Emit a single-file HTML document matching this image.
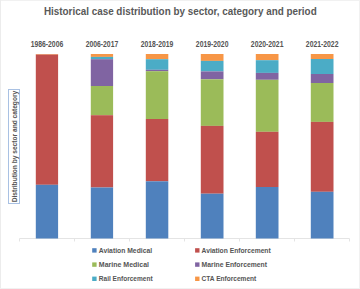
<!DOCTYPE html>
<html><head><meta charset="utf-8"><style>
html,body{margin:0;padding:0;background:#fff;}
body{width:360px;height:289px;overflow:hidden;}
svg{display:block;}
text{font-family:"Liberation Sans",sans-serif;}
.title{font-size:10.6px;font-weight:bold;fill:#595959;}
.lab{font-size:8.6px;font-weight:bold;fill:#555555;}
.leg{font-size:7.4px;font-weight:bold;fill:#555555;}
.ytitle{font-size:7.6px;fill:#555555;font-weight:bold;}
</style></head><body>
<svg width="360" height="289" viewBox="0 0 360 289">
<rect x="0" y="0" width="360" height="289" fill="#fff"/><rect x="0" y="0" width="360" height="1" fill="#f1f1f1"/><rect x="0" y="0" width="1" height="289" fill="#ececec"/><rect x="359" y="0" width="1" height="289" fill="#f1f1f1"/><rect x="0" y="288" width="360" height="1" fill="#f1f1f1"/>
<text x="43.9" y="14.9" class="title" textLength="272.8" lengthAdjust="spacingAndGlyphs">Historical case distribution by sector, category and period</text>
<text x="30.65" y="46.8" class="lab" textLength="32.6" lengthAdjust="spacingAndGlyphs">1986-2006</text><text x="85.65" y="46.8" class="lab" textLength="32.6" lengthAdjust="spacingAndGlyphs">2006-2017</text><text x="140.75" y="46.8" class="lab" textLength="32.6" lengthAdjust="spacingAndGlyphs">2018-2019</text><text x="195.85" y="46.8" class="lab" textLength="32.6" lengthAdjust="spacingAndGlyphs">2019-2020</text><text x="250.85" y="46.8" class="lab" textLength="32.6" lengthAdjust="spacingAndGlyphs">2020-2021</text><text x="305.85" y="46.8" class="lab" textLength="32.6" lengthAdjust="spacingAndGlyphs">2021-2022</text>
<g stroke="#e4e4e4" stroke-width="1">
<line x1="19.5" y1="238.5" x2="349.5" y2="238.5"/>
<line x1="19.5" y1="238.5" x2="19.5" y2="241.5" /><line x1="74.5" y1="238.5" x2="74.5" y2="241.5" /><line x1="129.5" y1="238.5" x2="129.5" y2="241.5" /><line x1="184.5" y1="238.5" x2="184.5" y2="241.5" /><line x1="239.5" y1="238.5" x2="239.5" y2="241.5" /><line x1="294.5" y1="238.5" x2="294.5" y2="241.5" /><line x1="349.5" y1="238.5" x2="349.5" y2="241.5" />
</g>
<rect x="35.80" y="54" width="22.30" height="0.60" fill="#F79646"/><rect x="35.80" y="54.6" width="22.30" height="130.20" fill="#C0504D"/><rect x="35.80" y="184.8" width="22.30" height="53.70" fill="#4F81BD"/><rect x="90.80" y="54" width="22.30" height="2.90" fill="#F79646"/><rect x="90.80" y="56.9" width="22.30" height="2.30" fill="#4BACC6"/><rect x="90.80" y="59.2" width="22.30" height="26.80" fill="#8064A2"/><rect x="90.80" y="86" width="22.30" height="29.20" fill="#9BBB59"/><rect x="90.80" y="115.2" width="22.30" height="72.30" fill="#C0504D"/><rect x="90.80" y="187.5" width="22.30" height="51.00" fill="#4F81BD"/><rect x="145.80" y="54" width="22.50" height="5.20" fill="#F79646"/><rect x="145.80" y="59.2" width="22.50" height="10.60" fill="#4BACC6"/><rect x="145.80" y="69.8" width="22.50" height="1.40" fill="#8064A2"/><rect x="145.80" y="71.2" width="22.50" height="47.80" fill="#9BBB59"/><rect x="145.80" y="119" width="22.50" height="62.30" fill="#C0504D"/><rect x="145.80" y="181.3" width="22.50" height="57.20" fill="#4F81BD"/><rect x="200.80" y="54" width="22.70" height="6.90" fill="#F79646"/><rect x="200.80" y="60.9" width="22.70" height="10.50" fill="#4BACC6"/><rect x="200.80" y="71.4" width="22.70" height="7.90" fill="#8064A2"/><rect x="200.80" y="79.3" width="22.70" height="46.60" fill="#9BBB59"/><rect x="200.80" y="125.9" width="22.70" height="67.80" fill="#C0504D"/><rect x="200.80" y="193.7" width="22.70" height="44.80" fill="#4F81BD"/><rect x="255.80" y="54" width="22.70" height="6.20" fill="#F79646"/><rect x="255.80" y="60.2" width="22.70" height="12.70" fill="#4BACC6"/><rect x="255.80" y="72.9" width="22.70" height="6.90" fill="#8064A2"/><rect x="255.80" y="79.8" width="22.70" height="52.00" fill="#9BBB59"/><rect x="255.80" y="131.8" width="22.70" height="55.20" fill="#C0504D"/><rect x="255.80" y="187" width="22.70" height="51.50" fill="#4F81BD"/><rect x="310.80" y="54" width="22.70" height="5.00" fill="#F79646"/><rect x="310.80" y="59" width="22.70" height="15.00" fill="#4BACC6"/><rect x="310.80" y="74" width="22.70" height="9.00" fill="#8064A2"/><rect x="310.80" y="83" width="22.70" height="38.90" fill="#9BBB59"/><rect x="310.80" y="121.9" width="22.70" height="69.90" fill="#C0504D"/><rect x="310.80" y="191.8" width="22.70" height="46.70" fill="#4F81BD"/>
<rect x="8.5" y="89.5" width="11" height="114" fill="none" stroke="#a9c1e3" stroke-width="1"/>
<text x="17.3" y="202.3" class="ytitle" textLength="111.5" lengthAdjust="spacingAndGlyphs" transform="rotate(-90 17.3 202.3)">Distribution by sector and category</text>
<rect x="92.2" y="248.20" width="4.4" height="4.4" fill="#4F81BD"/><text x="98.8" y="252.6" class="leg" textLength="53.30" lengthAdjust="spacingAndGlyphs">Aviation Medical</text><rect x="195.1" y="248.20" width="4.4" height="4.4" fill="#C0504D"/><text x="201.6" y="252.6" class="leg" textLength="69.10" lengthAdjust="spacingAndGlyphs">Aviation Enforcement</text><rect x="92.2" y="262.40" width="4.4" height="4.4" fill="#9BBB59"/><text x="98.8" y="266.8" class="leg" textLength="50.20" lengthAdjust="spacingAndGlyphs">Marine Medical</text><rect x="195.1" y="262.40" width="4.4" height="4.4" fill="#8064A2"/><text x="201.6" y="266.8" class="leg" textLength="65.40" lengthAdjust="spacingAndGlyphs">Marine Enforcement</text><rect x="92.2" y="276.60" width="4.4" height="4.4" fill="#4BACC6"/><text x="98.8" y="281.0" class="leg" textLength="53.80" lengthAdjust="spacingAndGlyphs">Rail Enforcement</text><rect x="195.1" y="276.60" width="4.4" height="4.4" fill="#F79646"/><text x="201.6" y="281.0" class="leg" textLength="54.70" lengthAdjust="spacingAndGlyphs">CTA Enforcement</text>
</svg>
</body></html>
